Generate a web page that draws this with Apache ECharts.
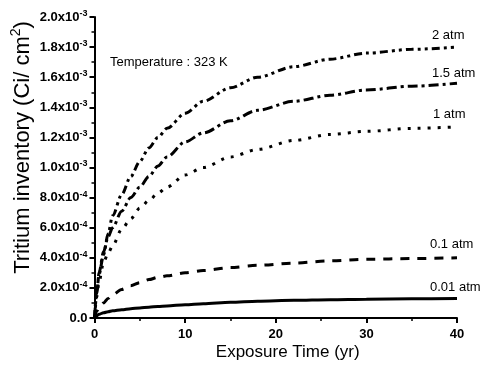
<!DOCTYPE html>
<html>
<head>
<meta charset="utf-8">
<script src="https://cdn.jsdelivr.net/npm/echarts@6.0.0/dist/echarts.min.js"></script>
<style>
    html, body { margin: 0; padding: 0; background: #fff; }
    #app { width: 485px; height: 368px; }
</style>
</head>
<body>
<div id="app"></div>
<script>
// exposure time (yr)
const years = [0, 0.25, 0.5, 1, 1.5, 2, 3, 4, 5, 6, 7, 8, 10, 12, 15, 18, 22, 26, 30, 35, 40];
// tritium inventory, in units of 1e-4 Ci/cm2
const atm2 = [0, 1.8, 2.9, 4.2, 5.6, 6.8, 8.2, 9.4, 10.4, 11.3, 12.0, 12.6, 13.6, 14.4, 15.3, 16.0, 16.7, 17.2, 17.6, 17.85, 18.0];
const atm15 = [0, 1.6, 3.0, 4.4, 5.4, 6.0, 7.1, 8.0, 8.7, 9.4, 10.1, 10.7, 11.7, 12.3, 13.1, 13.8, 14.4, 14.8, 15.15, 15.4, 15.6];
const atm1 = [0, 1.4, 2.4, 3.7, 4.3, 4.8, 5.9, 6.6, 7.3, 7.8, 8.3, 8.7, 9.5, 10.0, 10.7, 11.2, 11.8, 12.2, 12.4, 12.6, 12.7];
const atm01 = [0, 0.45, 0.7, 1.0, 1.3, 1.55, 1.9, 2.15, 2.35, 2.55, 2.7, 2.8, 3.0, 3.15, 3.35, 3.5, 3.65, 3.8, 3.9, 3.95, 4.0];
const atm001 = [0, 0.15, 0.25, 0.35, 0.42, 0.48, 0.55, 0.62, 0.67, 0.72, 0.76, 0.8, 0.88, 0.95, 1.05, 1.12, 1.18, 1.22, 1.25, 1.28, 1.3];
const seriesNames = ['2 atm', '1.5 atm', '1 atm', '0.1 atm', '0.01 atm'];
const xTicks = [0, 10, 20, 30, 40];

const FONT = '"Liberation Sans", Arial, sans-serif';

const chart = echarts.init(document.getElementById('app'), null, {renderer: 'canvas'});

const pairs = (vals) => years.map((t, i) => [t, vals[i]]);

// dash patterns + end label placement per curve
const styles = [
    {data: atm2, type: [8, 4, 3, 4, 3, 4], off: [-25, -12]},
    {data: atm15, type: [10, 4, 3, 4], off: [-25, -10]},
    {data: atm1, type: [3, 7], off: [-24, -12]},
    {data: atm01, type: [9, 8], off: [-27, -13]},
    {data: atm001, type: 'solid', off: [-27, -11]}
];

const series = styles.map((s, k) => ({
    name: seriesNames[k],
    type: 'line',
    data: pairs(s.data),
    smooth: 0.3,
    smoothMonotone: 'x',
    symbol: 'none',
    silent: true,
    lineStyle: {color: '#000', width: 3, type: s.type},
    endLabel: {
        show: true,
        formatter: '{a}',
        distance: 0,
        offset: s.off,
        color: '#000',
        fontSize: 13,
        fontFamily: FONT
    }
}));

const yLabel = (v) => {
    if (v === 0) return '0.0';
    if (v >= 10) return (v / 10).toFixed(1) + 'x10{sup|-3}';
    return v.toFixed(1) + 'x10{sup|-4}';
};

const option = {
    animation: false,
    backgroundColor: '#fff',
    title: {
        text: 'Temperature : 323 K',
        left: 110,
        top: 56,
        padding: 0,
        textStyle: {fontSize: 13, fontWeight: 'normal', color: '#000', fontFamily: FONT}
    },
    grid: {left: 94.5, right: 28, top: 17, bottom: 50, outerBoundsMode: 'none'},
    xAxis: {
        type: 'value',
        min: 0,
        max: 40,
        interval: 10,
        name: 'Exposure Time (yr)',
        nameLocation: 'middle',
        nameGap: 26,
        nameMoveOverlap: false,
        nameTextStyle: {fontSize: 17, color: '#000', fontFamily: FONT, padding: [0, 0, 0, 24]},
        axisLine: {lineStyle: {color: '#000', width: 2}},
        axisTick: {inside: false, length: 5, lineStyle: {color: '#000', width: 2}},
        minorTick: {show: true, splitNumber: 2, length: 3, lineStyle: {color: '#000', width: 1.5}},
        splitLine: {show: false},
        axisLabel: {
            margin: 10,
            fontSize: 13,
            fontWeight: 'bold',
            color: '#000',
            fontFamily: FONT,
            formatter: (v) => xTicks.includes(v) ? String(v) : ''
        }
    },
    yAxis: {
        type: 'value',
        min: 0,
        max: 20,
        interval: 2,
        name: '{a|Tritium inventory (Ci/ cm}{s|2}{a|)}',
        nameLocation: 'middle',
        nameGap: 59,
        nameMoveOverlap: false,
        nameTextStyle: {
            color: '#000',
            padding: [0, 0, 0, 40],
            rich: {
                a: {fontSize: 22, color: '#000', fontFamily: FONT},
                s: {fontSize: 14, color: '#000', fontFamily: FONT, padding: [0, 0, 12, 0]}
            }
        },
        axisLine: {show: true, lineStyle: {color: '#000', width: 2}},
        axisTick: {show: true, inside: false, length: 5, lineStyle: {color: '#000', width: 2}},
        minorTick: {show: true, splitNumber: 2, length: 3, lineStyle: {color: '#000', width: 1.5}},
        splitLine: {show: false},
        axisLabel: {
            margin: 7,
            fontSize: 13,
            fontWeight: 'bold',
            color: '#000',
            fontFamily: FONT,
            formatter: yLabel,
            rich: {
                sup: {fontSize: 9, fontWeight: 'bold', color: '#000', fontFamily: FONT, padding: [0, 0, 7, 0]}
            }
        }
    },
    series
};

chart.setOption(option);
</script>
</body>
</html>
